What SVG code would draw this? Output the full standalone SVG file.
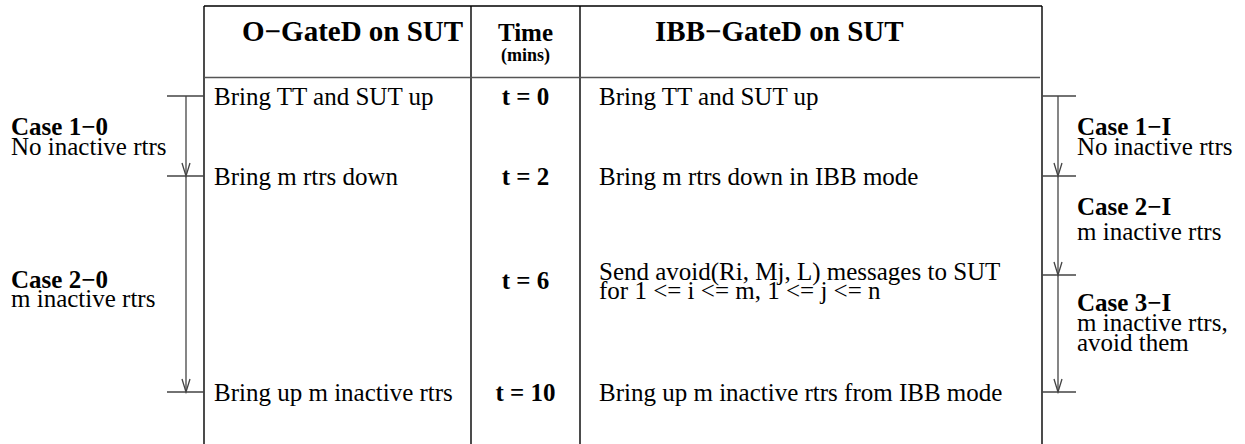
<svg xmlns="http://www.w3.org/2000/svg" width="1245" height="444" viewBox="0 0 1245 444">
<style>
text{font-family:"Liberation Serif","Times New Roman",serif;fill:#000}
.h{font-size:29px;font-weight:bold}
.hm{font-size:25px;font-weight:bold;text-anchor:middle}
.hs{font-size:18px;font-weight:bold;text-anchor:middle}
.b{font-size:25px}
.t{font-size:25px;font-weight:bold;text-anchor:middle}
.c{font-size:25px;font-weight:bold}
.border{stroke:#000;stroke-width:1.4;fill:none}
.rule{stroke:#555;stroke-width:1.4;fill:none}
.tick{stroke:#444;stroke-width:1.3;fill:none}
.arr{stroke:#444;stroke-width:1.3;fill:none;marker-end:url(#ah)}
</style>
<defs>
<marker id="ah" markerUnits="userSpaceOnUse" markerWidth="20" markerHeight="20" refX="0" refY="0" orient="auto" overflow="visible">
<path d="M -13 -4 L 0 0 L -13 4" fill="none" stroke="#444" stroke-width="1.3"/>
</marker>
</defs>
<g id="table">
<path class="border" d="M204 6 H1042 M204 6 V444 M1042 6 V444 M471 6 V444 M580 6 V444"/>
<path class="rule" d="M204 77.5 H1040"/>
</g>
<g id="header-ogated"><text class="h" x="242" y="41">O−GateD on SUT</text></g>
<g id="header-time"><text class="hm" x="525.5" y="41">Time</text><text class="hs" x="525.5" y="61">(mins)</text></g>
<g id="header-ibbgated"><text class="h" x="655" y="41">IBB−GateD on SUT</text></g>
<g id="row-t0">
<text class="b" x="214" y="105">Bring TT and SUT up</text>
<text class="t" x="525.5" y="105">t = 0</text>
<text class="b" x="599" y="105">Bring TT and SUT up</text>
</g>
<g id="row-t2">
<text class="b" x="214" y="185">Bring m rtrs down</text>
<text class="t" x="525.5" y="185">t = 2</text>
<text class="b" x="599" y="185">Bring m rtrs down in IBB mode</text>
</g>
<g id="row-t6">
<text class="t" x="525.5" y="289">t = 6</text>
<text class="b" x="599" y="280">Send avoid(Ri, Mj, L) messages to SUT</text>
<text class="b" x="599" y="299">for 1 &lt;= i &lt;= m, 1 &lt;= j &lt;= n</text>
</g>
<g id="row-t10">
<text class="b" x="214" y="401">Bring up m inactive rtrs</text>
<text class="t" x="525.5" y="401">t = 10</text>
<text class="b" x="599" y="401">Bring up m inactive rtrs from IBB mode</text>
</g>
<g id="case-1-0"><text class="c" x="11" y="135">Case 1−0</text><text class="b" x="11" y="155">No inactive rtrs</text></g>
<g id="case-2-0"><text class="c" x="11" y="288">Case 2−0</text><text class="b" x="11" y="307">m inactive rtrs</text></g>
<g id="case-1-i"><text class="c" x="1077" y="135">Case 1−I</text><text class="b" x="1077" y="155">No inactive rtrs</text></g>
<g id="case-2-i"><text class="c" x="1077" y="215">Case 2−I</text><text class="b" x="1077" y="240">m inactive rtrs</text></g>
<g id="case-3-i"><text class="c" x="1077" y="311">Case 3−I</text><text class="b" x="1077" y="331">m inactive rtrs,</text><text class="b" x="1077" y="351">avoid them</text></g>
<g id="connectors">
<path class="tick" d="M167 96 H204 M167 176 H204 M167 392 H204"/>
<path class="tick" d="M1042 96 H1076 M1042 176 H1076 M1042 275 H1076 M1042 392 H1076"/>
<path class="arr" d="M186 96 V176"/>
<path class="arr" d="M186 176 V392"/>
<path class="arr" d="M1058 96 V176"/>
<path class="arr" d="M1058 176 V275"/>
<path class="arr" d="M1058 275 V392"/>
</g>
</svg>
